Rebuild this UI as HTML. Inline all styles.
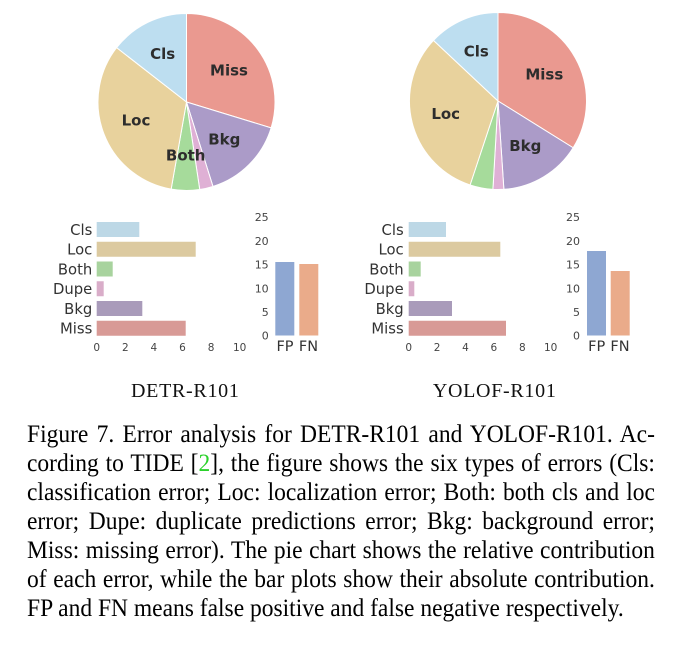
<!DOCTYPE html>
<html>
<head>
<meta charset="utf-8">
<style>
  html,body{margin:0;padding:0;background:#fff;}
  body{width:675px;height:647px;position:relative;overflow:hidden;}
  svg{position:absolute;left:0;top:0;}
  .lbl{position:absolute;font-family:"Liberation Serif",serif;font-size:20px;line-height:20px;letter-spacing:0.7px;color:#111;white-space:nowrap;transform:translateX(-50%);}
  .cap{position:absolute;left:27px;top:420px;width:668px;font-family:"Liberation Serif",serif;font-size:25px;color:#000;transform:scaleX(0.94);transform-origin:0 0;}
  .cap div{height:29px;line-height:29px;text-align:justify;text-align-last:justify;word-spacing:-3px;white-space:normal;overflow:hidden;}
  .cap div.last{text-align:left;text-align-last:left;word-spacing:0;}
  .g{color:#2bd12b;}
</style>
</head>
<body>
<svg width="675" height="647" viewBox="0 0 675 647" xmlns="http://www.w3.org/2000/svg">
  <!-- LEFT PIE -->
  <g stroke="#ffffff" stroke-width="1" stroke-linejoin="round">
    <path d="M186.5,102 L186.5,13.5 A88.5,88.5 0 0 1 271.13,127.88 Z" fill="#ea9990"/>
    <path d="M186.5,102 L271.13,127.88 A88.5,88.5 0 0 1 212.96,186.45 Z" fill="#ab9bc8"/>
    <path d="M186.5,102 L212.96,186.45 A88.5,88.5 0 0 1 199.73,189.51 Z" fill="#dfb0d5"/>
    <path d="M186.5,102 L199.73,189.51 A88.5,88.5 0 0 1 171.13,189.16 Z" fill="#a6db9b"/>
    <path d="M186.5,102 L171.13,189.16 A88.5,88.5 0 0 1 116.66,47.63 Z" fill="#e8d29d"/>
    <path d="M186.5,102 L116.66,47.63 A88.5,88.5 0 0 1 186.5,13.5 Z" fill="#bddef0"/>
  </g>
  <g font-family="'DejaVu Sans', 'Liberation Sans', sans-serif" font-weight="bold" font-size="15" fill="#2d2d2d" text-anchor="middle">
    <text x="162.7" y="58.8">Cls</text>
    <text x="229" y="75.5">Miss</text>
    <text x="136" y="125.5">Loc</text>
    <text x="224.3" y="144.5">Bkg</text>
    <text x="185.7" y="160.5">Both</text>
  </g>

  <!-- RIGHT PIE -->
  <g stroke="#ffffff" stroke-width="1" stroke-linejoin="round">
    <path d="M498,101 L498,12.5 A88.5,88.5 0 0 1 573.14,147.76 Z" fill="#ea9990"/>
    <path d="M498,101 L573.14,147.76 A88.5,88.5 0 0 1 503.87,189.31 Z" fill="#ab9bc8"/>
    <path d="M498,101 L503.87,189.31 A88.5,88.5 0 0 1 492.90,189.35 Z" fill="#dfb0d5"/>
    <path d="M498,101 L492.90,189.35 A88.5,88.5 0 0 1 470.07,184.98 Z" fill="#a6db9b"/>
    <path d="M498,101 L470.07,184.98 A88.5,88.5 0 0 1 433.48,40.42 Z" fill="#e8d29d"/>
    <path d="M498,101 L433.48,40.42 A88.5,88.5 0 0 1 498,12.5 Z" fill="#bddef0"/>
  </g>
  <g font-family="'DejaVu Sans', 'Liberation Sans', sans-serif" font-weight="bold" font-size="15" fill="#2d2d2d" text-anchor="middle">
    <text x="476.3" y="56.5">Cls</text>
    <text x="544.3" y="79.5">Miss</text>
    <text x="445.7" y="118.8">Loc</text>
    <text x="525.3" y="151.2">Bkg</text>
  </g>

  <!-- LEFT BAR CHART -->
  <g>
    <rect x="96.7" y="222" width="42.6" height="15" fill="#bdd8e6"/>
    <rect x="96.7" y="241.75" width="99" height="15" fill="#dccaa0"/>
    <rect x="96.7" y="261.5" width="16" height="15" fill="#a8d39e"/>
    <rect x="96.7" y="281.25" width="7" height="15" fill="#d9adc9"/>
    <rect x="96.7" y="301" width="45.6" height="15" fill="#a99bba"/>
    <rect x="96.7" y="320.75" width="89" height="15" fill="#d89a96"/>
  </g>
  <g font-family="'DejaVu Sans', 'Liberation Sans', sans-serif" font-size="14.8" fill="#333" text-anchor="end">
    <text x="92.3" y="234.9">Cls</text>
    <text x="92.3" y="254.6">Loc</text>
    <text x="92.3" y="274.4">Both</text>
    <text x="92.3" y="294.1">Dupe</text>
    <text x="92.3" y="313.9">Bkg</text>
    <text x="92.3" y="333.6">Miss</text>
  </g>
  <g font-family="'DejaVu Sans', 'Liberation Sans', sans-serif" font-size="10.5" fill="#444" text-anchor="middle">
    <text x="96.7" y="351.1">0</text>
    <text x="125.3" y="351.1">2</text>
    <text x="153.9" y="351.1">4</text>
    <text x="182.5" y="351.1">6</text>
    <text x="211.1" y="351.1">8</text>
    <text x="239.7" y="351.1">10</text>
  </g>
  <!-- LEFT FP/FN -->
  <g font-family="'DejaVu Sans', 'Liberation Sans', sans-serif" font-size="11" fill="#444" text-anchor="end">
    <text x="268.7" y="339.7">0</text>
    <text x="268.7" y="316">5</text>
    <text x="268.7" y="292.3">10</text>
    <text x="268.7" y="268.6">15</text>
    <text x="268.7" y="244.9">20</text>
    <text x="268.7" y="221.2">25</text>
  </g>
  <rect x="275.3" y="262" width="19" height="73.5" fill="#8ea7d2"/>
  <rect x="299.3" y="264" width="19" height="71.5" fill="#eaab8a"/>
  <g font-family="'DejaVu Sans', 'Liberation Sans', sans-serif" font-size="14.5" fill="#333" text-anchor="middle">
    <text x="285" y="351">FP</text>
    <text x="308.5" y="351">FN</text>
  </g>

  <!-- RIGHT BAR CHART -->
  <g>
    <rect x="408.7" y="222" width="37.3" height="15" fill="#bdd8e6"/>
    <rect x="408.7" y="241.75" width="91.6" height="15" fill="#dccaa0"/>
    <rect x="408.7" y="261.5" width="12" height="15" fill="#a8d39e"/>
    <rect x="408.7" y="281.25" width="5.6" height="15" fill="#d9adc9"/>
    <rect x="408.7" y="301" width="43.3" height="15" fill="#a99bba"/>
    <rect x="408.7" y="320.75" width="97.3" height="15" fill="#d89a96"/>
  </g>
  <g font-family="'DejaVu Sans', 'Liberation Sans', sans-serif" font-size="14.8" fill="#333" text-anchor="end">
    <text x="403.7" y="234.9">Cls</text>
    <text x="403.7" y="254.6">Loc</text>
    <text x="403.7" y="274.4">Both</text>
    <text x="403.7" y="294.1">Dupe</text>
    <text x="403.7" y="313.9">Bkg</text>
    <text x="403.7" y="333.6">Miss</text>
  </g>
  <g font-family="'DejaVu Sans', 'Liberation Sans', sans-serif" font-size="10.5" fill="#444" text-anchor="middle">
    <text x="408.7" y="351.1">0</text>
    <text x="437.1" y="351.1">2</text>
    <text x="465.5" y="351.1">4</text>
    <text x="493.9" y="351.1">6</text>
    <text x="522.3" y="351.1">8</text>
    <text x="550.7" y="351.1">10</text>
  </g>
  <!-- RIGHT FP/FN -->
  <g font-family="'DejaVu Sans', 'Liberation Sans', sans-serif" font-size="11" fill="#444" text-anchor="end">
    <text x="580" y="339.7">0</text>
    <text x="580" y="316">5</text>
    <text x="580" y="292.3">10</text>
    <text x="580" y="268.6">15</text>
    <text x="580" y="244.9">20</text>
    <text x="580" y="221.2">25</text>
  </g>
  <rect x="587" y="251" width="19" height="84.5" fill="#8ea7d2"/>
  <rect x="610.7" y="271" width="19" height="64.5" fill="#eaab8a"/>
  <g font-family="'DejaVu Sans', 'Liberation Sans', sans-serif" font-size="14.5" fill="#333" text-anchor="middle">
    <text x="596.7" y="351">FP</text>
    <text x="620" y="351">FN</text>
  </g>
</svg>

<div class="lbl" style="left:185.3px;top:380.5px;">DETR-R101</div>
<div class="lbl" style="left:494.7px;top:380.5px;">YOLOF-R101</div>

<div class="cap">
  <div>Figure 7. Error analysis for DETR-R101 and YOLOF-R101. Ac-</div>
  <div>cording to TIDE [<span class="g">2</span>], the figure shows the six types of errors (Cls:</div>
  <div>classification error; Loc: localization error; Both: both cls and loc</div>
  <div>error; Dupe: duplicate predictions error; Bkg: background error;</div>
  <div>Miss: missing error). The pie chart shows the relative contribution</div>
  <div>of each error, while the bar plots show their absolute contribution.</div>
  <div class="last">FP and FN means false positive and false negative respectively.</div>
</div>
</body>
</html>
